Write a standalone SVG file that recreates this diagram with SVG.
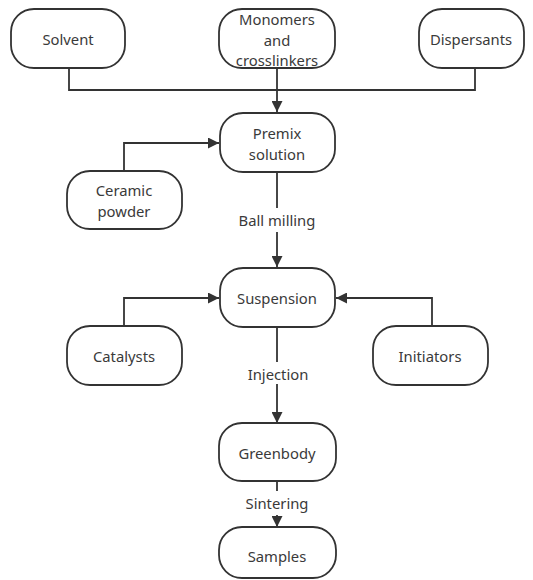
<svg xmlns="http://www.w3.org/2000/svg" width="533" height="580" viewBox="0 0 533 580">
<style>
.box{fill:#fff;stroke:#333;stroke-width:1.8}
.t{font-family:"Noto Sans","Open Sans",sans-serif;font-size:14.8px;fill:#3a3a3a;text-anchor:middle;dominant-baseline:central}
.c{fill:none;stroke:#333;stroke-width:1.8}
</style>
<defs>
<marker id="ah" viewBox="0 0 10 10" refX="10" refY="5" markerWidth="11" markerHeight="11" markerUnits="userSpaceOnUse" orient="auto">
<path d="M0,0 L10,5 L0,10 z" fill="#333"/>
</marker>
</defs>
<rect width="533" height="580" fill="#fff"/>
<g id="connectors">
<path class="c" d="M69,68 V90 H475 V68"/>
<path class="c" d="M277,68 V112" marker-end="url(#ah)"/>
<path class="c" d="M124,171 V143 H219" marker-end="url(#ah)"/>
<path class="c" d="M277,172 V208"/>
<path class="c" d="M277,232 V267" marker-end="url(#ah)"/>
<path class="c" d="M124,326 V298 H219" marker-end="url(#ah)"/>
<path class="c" d="M432,326 V298 H336" marker-end="url(#ah)"/>
<path class="c" d="M277,328 V362"/>
<path class="c" d="M277,384 V423" marker-end="url(#ah)"/>
<path class="c" d="M277,482 V491"/>
<path class="c" d="M277,515 V527" marker-end="url(#ah)"/>
<text class="t" x="277" y="220">Ball milling</text>
<text class="t" x="278" y="374">Injection</text>
<text class="t" x="277" y="503">Sintering</text>
</g>
<g id="solvent"><rect class="box" x="11" y="9" width="114" height="59" rx="23"/><text class="t" x="68" y="39">Solvent</text></g>
<g id="monomers"><rect class="box" x="219" y="9" width="116" height="59" rx="23"/><text class="t" x="277" y="19">Monomers</text><text class="t" x="277" y="39.5">and</text><text class="t" x="277" y="60">crosslinkers</text></g>
<g id="dispersants"><rect class="box" x="419" y="9" width="105" height="59" rx="23"/><text class="t" x="471" y="39">Dispersants</text></g>
<g id="premix"><rect class="box" x="220" y="113" width="115" height="59" rx="23"/><text class="t" x="277" y="133">Premix</text><text class="t" x="277" y="153.5">solution</text></g>
<g id="ceramic"><rect class="box" x="67" y="171" width="115" height="58" rx="23"/><text class="t" x="124" y="190">Ceramic</text><text class="t" x="124" y="210.5">powder</text></g>
<g id="suspension"><rect class="box" x="220" y="268" width="115" height="59" rx="23"/><text class="t" x="277" y="298">Suspension</text></g>
<g id="catalysts"><rect class="box" x="67" y="326" width="115" height="59" rx="23"/><text class="t" x="124" y="356">Catalysts</text></g>
<g id="initiators"><rect class="box" x="373" y="326" width="115" height="59" rx="23"/><text class="t" x="430" y="356">Initiators</text></g>
<g id="greenbody"><rect class="box" x="219" y="423" width="117" height="58" rx="23"/><text class="t" x="277" y="453">Greenbody</text></g>
<g id="samples"><rect class="box" x="219" y="527" width="117" height="51" rx="23"/><text class="t" x="277" y="556">Samples</text></g>
</svg>
